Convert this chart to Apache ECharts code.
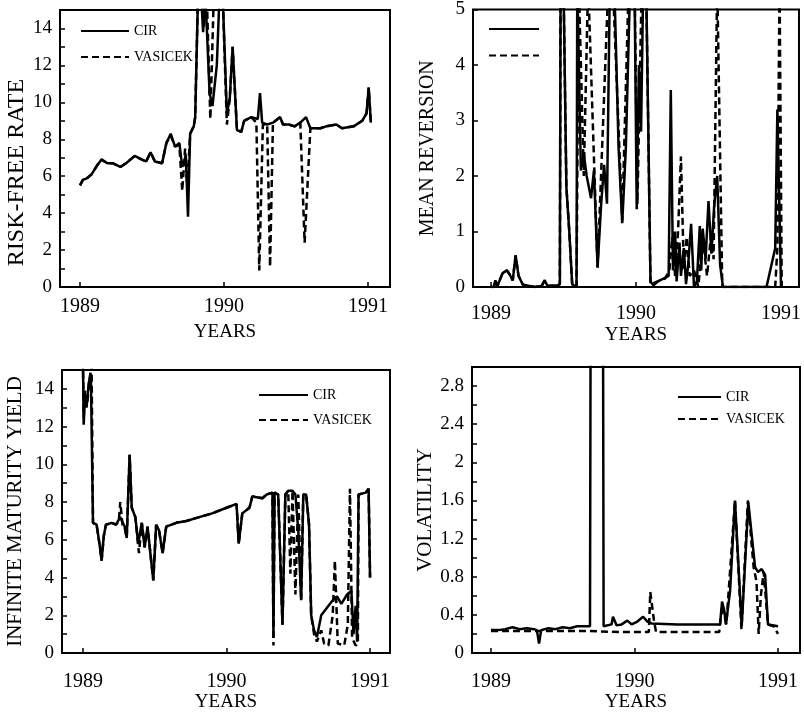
<!DOCTYPE html>
<html>
<head>
<meta charset="utf-8">
<title>CIR vs Vasicek parameter estimates</title>
<script src="https://cdn.jsdelivr.net/npm/echarts@6.0.0/dist/echarts.min.js"></script>
<style>
  html, body { margin: 0; padding: 0; background: #fff; }
  #chart { width: 804px; height: 717px; }
</style>
</head>
<body>
<div id="chart"></div>
<script>
// x ticks shared by all four panels
const yearTicks = [1989, 1990, 1991];

// risk-free rate (top left)
const rateCirYears = [1989.00, 1989.02, 1989.05, 1989.08, 1989.12, 1989.15, 1989.19, 1989.23, 1989.28, 1989.32,
  1989.38, 1989.43, 1989.46, 1989.49, 1989.52, 1989.57, 1989.60, 1989.63, 1989.66, 1989.69,
  1989.71, 1989.735, 1989.75, 1989.765, 1989.79, 1989.80, 1989.82, 1989.84, 1989.855, 1989.87,
  1989.90, 1989.92, 1989.95, 1989.97, 1989.99, 1990.02, 1990.04, 1990.06, 1990.09, 1990.12,
  1990.14, 1990.19, 1990.235, 1990.25, 1990.265, 1990.30, 1990.34, 1990.39, 1990.41, 1990.45,
  1990.49, 1990.53, 1990.57, 1990.60, 1990.67, 1990.71, 1990.78, 1990.82, 1990.90, 1990.96,
  1990.99, 1991.005, 1991.02];
const rateCir = [5.5, 5.8, 5.9, 6.1, 6.6, 6.9, 6.7, 6.7, 6.5, 6.7,
  7.1, 6.9, 6.8, 7.3, 6.8, 6.7, 7.8, 8.3, 7.6, 7.8,
  6.5, 7.1, 3.8, 8.3, 8.7, 9.2, 16, 16, 13.8, 16,
  10.5, 9.8, 12, 16, 16, 9.4, 10.2, 13.0, 8.5, 8.4,
  9.0, 9.2, 9.1, 10.5, 8.9, 8.8, 8.9, 9.2, 8.8, 8.8,
  8.7, 8.9, 9.2, 8.6, 8.6, 8.7, 8.8, 8.6, 8.7, 9.0,
  9.4, 10.8, 8.9];
const rateVasYears = [1989.00, 1989.02, 1989.05, 1989.08, 1989.12, 1989.15, 1989.19, 1989.23, 1989.28, 1989.32,
  1989.38, 1989.43, 1989.46, 1989.49, 1989.52, 1989.57, 1989.60, 1989.63, 1989.66, 1989.69,
  1989.71, 1989.73, 1989.745, 1989.765, 1989.79, 1989.80, 1989.82, 1989.85, 1989.86, 1989.88,
  1989.905, 1989.93, 1989.99, 1990.02, 1990.04, 1990.06, 1990.09, 1990.12, 1990.14, 1990.19,
  1990.225, 1990.245, 1990.27, 1990.30, 1990.32, 1990.34, 1990.39, 1990.41, 1990.45, 1990.49,
  1990.53, 1990.56, 1990.60, 1990.67, 1990.71, 1990.78, 1990.82, 1990.90, 1990.96, 1990.99,
  1991.005, 1991.02];
const rateVas = [5.5, 5.8, 5.9, 6.1, 6.6, 6.9, 6.7, 6.7, 6.5, 6.7,
  7.1, 6.9, 6.8, 7.3, 6.8, 6.7, 7.8, 8.2, 7.6, 7.7,
  5.2, 7.5, 5.4, 8.3, 8.7, 9.2, 16, 16, 14.0, 16,
  9.1, 16, 16, 8.8, 10.2, 13.0, 8.5, 8.4, 9.0, 9.2,
  8.9, 0.9, 8.8, 8.8, 1.1, 8.9, 9.2, 8.8, 8.8, 8.7,
  8.9, 2.4, 8.6, 8.6, 8.7, 8.8, 8.6, 8.7, 9.0, 9.4,
  10.8, 8.9];

// mean reversion (top right)
const revCirYears = [1989.00, 1989.02, 1989.03, 1989.045, 1989.08, 1989.11, 1989.13, 1989.15, 1989.17, 1989.19,
  1989.22, 1989.30, 1989.35, 1989.37, 1989.39, 1989.46, 1989.475, 1989.48, 1989.50, 1989.52,
  1989.54, 1989.56, 1989.59, 1989.595, 1989.62, 1989.64, 1989.66, 1989.69, 1989.71, 1989.735,
  1989.76, 1989.78, 1989.80, 1989.82, 1989.85, 1989.88, 1989.905, 1989.93, 1989.96, 1989.99,
  1990.005, 1990.02, 1990.035, 1990.05, 1990.07, 1990.10, 1990.12, 1990.15, 1990.19, 1990.225,
  1990.24, 1990.255, 1990.27, 1990.28, 1990.30, 1990.31, 1990.33, 1990.345, 1990.36, 1990.38,
  1990.40, 1990.42, 1990.44, 1990.45, 1990.46, 1990.48, 1990.50, 1990.52, 1990.54, 1990.56,
  1990.58, 1990.60, 1990.90, 1990.96, 1990.975, 1991.00];
const revCir = [0, 0, 0.12, 0.02, 0.25, 0.3, 0.22, 0.12, 0.57, 0.2,
  0.04, 0, 0.02, 0.12, 0.02, 0.03, 0.05, 5.5, 5.5, 1.8,
  1.0, 0.05, 0, 5.5, 2.1, 2.4, 2.0, 1.6, 2.1, 0.35,
  1.5, 2.2, 1.5, 5.5, 5.5, 2.5, 1.15, 2.5, 5.5, 5.5,
  1.4, 4.0, 2.8, 5.5, 5.5, 0.1, 0.03, 0.1, 0.15, 0.2,
  3.55, 0.3, 1.0, 0.1, 0.8, 0.2, 0.7, 0.05, 0.4, 1.14,
  0, 0.1, 1.1, 0.3, 1.05, 0.5, 1.55, 0.6, 1.5, 2.0,
  0.4, 0, 0, 0.7, 3.2, 0];
const revVasYears = [1989.00, 1989.02, 1989.03, 1989.045, 1989.08, 1989.11, 1989.13, 1989.15, 1989.17, 1989.19,
  1989.22, 1989.30, 1989.35, 1989.37, 1989.39, 1989.46, 1989.475, 1989.48, 1989.50, 1989.52,
  1989.54, 1989.56, 1989.59, 1989.605, 1989.64, 1989.67, 1989.735, 1989.81, 1989.84, 1989.905,
  1989.95, 1989.99, 1990.01, 1990.04, 1990.07, 1990.10, 1990.15, 1990.20, 1990.23, 1990.25,
  1990.27, 1990.29, 1990.31, 1990.33, 1990.35, 1990.37, 1990.40, 1990.43, 1990.46, 1990.49,
  1990.52, 1990.535, 1990.56, 1990.595, 1990.96, 1990.975, 1990.99, 1991.005];
const revVas = [0, 0, 0.12, 0.02, 0.25, 0.3, 0.22, 0.12, 0.57, 0.2,
  0.04, 0, 0.02, 0.12, 0.02, 0.03, 0.05, 5.5, 5.5, 1.8,
  1.0, 0.05, 0, 5.5, 2.0, 5.5, 0.35, 5.5, 5.5, 1.2,
  5.5, 5.5, 1.5, 5.5, 5.5, 0.05, 0.1, 0.15, 0.3, 0.9,
  0.2, 1.0, 2.35, 0.3, 0.9, 0.2, 0.3, 0, 0.9, 0.2,
  1.0, 0.5, 5.5, 0, 0, 0.7, 5.5, 0];

// infinite maturity yield (bottom left)
const yieldCirYears = [1989.00, 1989.005, 1989.015, 1989.025, 1989.04, 1989.055, 1989.07, 1989.095, 1989.115, 1989.13,
  1989.145, 1989.16, 1989.20, 1989.23, 1989.26, 1989.29, 1989.305, 1989.325, 1989.34, 1989.365,
  1989.385, 1989.41, 1989.43, 1989.45, 1989.475, 1989.49, 1989.51, 1989.53, 1989.555, 1989.58,
  1989.65, 1989.72, 1989.81, 1989.90, 1990.00, 1990.07, 1990.085, 1990.11, 1990.16, 1990.18,
  1990.25, 1990.28, 1990.32, 1990.327, 1990.335, 1990.36, 1990.39, 1990.41, 1990.43, 1990.46,
  1990.48, 1990.50, 1990.52, 1990.535, 1990.555, 1990.575, 1990.59, 1990.61, 1990.63, 1990.66,
  1990.70, 1990.74, 1990.77, 1990.80, 1990.84, 1990.87, 1990.885, 1990.90, 1990.91, 1990.92,
  1990.97, 1990.99, 1991.00];
const yieldCir = [15.5, 12.1, 13.7, 13.0, 14.3, 14.8, 6.9, 6.8, 5.8, 4.9,
  6.2, 6.8, 6.9, 6.8, 7.2, 6.7, 6.1, 10.5, 7.7, 7.2,
  5.8, 6.9, 5.6, 6.7, 4.9, 3.85, 6.8, 6.5, 5.3, 6.7,
  6.9, 7.0, 7.2, 7.4, 7.7, 7.9, 5.8, 7.4, 7.7, 8.3,
  8.2, 8.4, 8.5, 0.8, 8.5, 8.4, 1.5, 8.4, 8.6, 8.6,
  8.4, 6.5, 2.8, 8.4, 8.4, 6.8, 2.0, 1.2, 0.85, 2.0,
  2.4, 2.8, 3.0, 2.6, 3.1, 3.3, 1.0, 2.5, 0.6, 8.4,
  8.5, 8.7, 4.0];
const yieldVasYears = [1989.00, 1989.005, 1989.015, 1989.03, 1989.045, 1989.06, 1989.07, 1989.095, 1989.115, 1989.13,
  1989.145, 1989.16, 1989.20, 1989.23, 1989.25, 1989.26, 1989.275, 1989.29, 1989.305, 1989.325,
  1989.34, 1989.365, 1989.39, 1989.41, 1989.43, 1989.45, 1989.475, 1989.49, 1989.51, 1989.53,
  1989.555, 1989.58, 1989.65, 1989.72, 1989.81, 1989.90, 1990.00, 1990.07, 1990.085, 1990.11,
  1990.16, 1990.18, 1990.25, 1990.28, 1990.32, 1990.327, 1990.335, 1990.36, 1990.39, 1990.41,
  1990.43, 1990.445, 1990.46, 1990.48, 1990.50, 1990.52, 1990.535, 1990.555, 1990.575, 1990.59,
  1990.61, 1990.63, 1990.66, 1990.68, 1990.71, 1990.74, 1990.755, 1990.775, 1990.82, 1990.845,
  1990.86, 1990.875, 1990.90, 1990.915, 1990.92, 1990.97, 1990.99, 1991.00];
const yieldVas = [15.5, 12.5, 13.9, 13.2, 14.5, 15.2, 6.9, 6.8, 5.8, 4.9,
  6.2, 6.8, 6.9, 6.8, 7.0, 8.0, 6.8, 6.7, 6.1, 10.5,
  7.7, 7.2, 5.3, 6.9, 5.6, 6.7, 4.9, 3.85, 6.8, 6.5,
  5.3, 6.7, 6.9, 7.0, 7.2, 7.4, 7.7, 7.9, 5.8, 7.4,
  7.7, 8.3, 8.2, 8.4, 8.5, 0.4, 8.5, 8.4, 1.5, 8.4,
  8.6, 4.2, 8.6, 3.1, 8.4, 2.8, 8.4, 8.4, 6.8, 2.0,
  1.0, 0.6, 1.2, 0.5, 0.4, 2.0, 4.9, 0.5, 0.4, 1.5,
  8.7, 0.8, 0.4, 0.5, 8.4, 8.5, 8.7, 4.0];

// volatility (bottom right)
const volCirYears = [1989.00, 1989.05, 1989.10, 1989.15, 1989.20, 1989.25, 1989.30, 1989.32, 1989.335, 1989.35,
  1989.40, 1989.45, 1989.50, 1989.55, 1989.60, 1989.65, 1989.69, 1989.695, 1989.78, 1989.785,
  1989.84, 1989.85, 1989.875, 1989.91, 1989.95, 1989.98, 1990.02, 1990.06, 1990.09, 1990.12,
  1990.30, 1990.45, 1990.596, 1990.61, 1990.625, 1990.637, 1990.666, 1990.70, 1990.747, 1990.793,
  1990.84, 1990.86, 1990.886, 1990.91, 1990.93, 1991.00];
const volCir = [0.24, 0.24, 0.25, 0.27, 0.25, 0.26, 0.25, 0.24, 0.1, 0.24,
  0.26, 0.25, 0.27, 0.26, 0.28, 0.28, 0.28, 4, 4, 0.28,
  0.3, 0.38, 0.29, 0.3, 0.34, 0.3, 0.33, 0.38, 0.33, 0.31,
  0.3, 0.3, 0.3, 0.54, 0.45, 0.3, 0.65, 1.6, 0.28, 1.58,
  0.9, 0.85, 0.88, 0.82, 0.3, 0.28];
const volVasYears = [1989.00, 1989.30, 1989.60, 1989.69, 1989.90, 1990.10, 1990.11, 1990.135, 1990.15, 1990.30,
  1990.59, 1990.61, 1990.64, 1990.70, 1990.745, 1990.79, 1990.83, 1990.85, 1990.865, 1990.88,
  1990.90, 1990.93, 1990.97, 1991.00];
const volVas = [0.23, 0.23, 0.23, 0.23, 0.22, 0.22, 0.64, 0.35, 0.22, 0.22,
  0.22, 0.5, 0.3, 1.6, 0.25, 1.6, 0.9, 0.75, 0.2, 0.6,
  0.85, 0.3, 0.28, 0.2];

const FONT = '"Liberation Serif", "DejaVu Serif", serif';
const pairs = (xs, ys) => xs.map((x, i) => [x, ys[i]]);

const chart = echarts.init(document.getElementById('chart'));

// one panel = grid + axes; positions
const panels = [
  { grid: { left: 60, top: 10, width: 330, height: 277 }, xMin: 1988.861, xMax: 1991.153,
    yMax: 15, yStep: 1, yLabel: v => (v % 2 === 0 ? v : ''), name: 'RISK-FREE RATE', nameSize: 24,
    nameGap: 30, namePad: [0, 48, 0, 0], xMargin: 10, xNameGap: 36 },
  { grid: { left: 473, top: 7, width: 327, height: 280 }, xMin: 1988.876, xMax: 1991.124,
    yMax: 5, yStep: 1, yLabel: v => v, name: 'MEAN REVERSION', nameSize: 20,
    nameGap: 35, namePad: 0, xMargin: 17, xNameGap: 39 },
  { grid: { left: 62, top: 370, width: 328, height: 283 }, xMin: 1988.854, xMax: 1991.139,
    yMax: 15, yStep: 1, yLabel: v => (v % 2 === 0 ? v : ''), name: 'INFINITE MATURITY YIELD', nameSize: 21,
    nameGap: 36, namePad: 0, xMargin: 19, xNameGap: 40 },
  { grid: { left: 472, top: 367, width: 328, height: 286 }, xMin: 1988.868, xMax: 1991.153,
    yMax: 3, yStep: 0.2, yLabel: v => (Math.round(v * 10) % 4 === 0 ? String(Math.round(v * 10) / 10) : ''),
    name: 'VOLATILITY', nameSize: 21, nameGap: 34, namePad: 0, xMargin: 19, xNameGap: 40 }
];

const legends = [
  { left: 75, top: 19, itemWidth: 48, itemGap: 12, text: true },
  { left: 483, top: 17, itemWidth: 50, itemGap: 14, text: false },
  { left: 253, top: 383, itemWidth: 49, itemGap: 11, text: true },
  { left: 672, top: 385, itemWidth: 43, itemGap: 8, text: true }
];

const lineSeries = (name, idx, xs, ys, dashed) => ({
  name: name,
  type: 'line',
  xAxisIndex: idx,
  yAxisIndex: idx,
  data: pairs(xs, ys),
  symbol: 'none',
  clip: true,
  silent: true,
  lineStyle: { color: '#000', width: 2.5, type: dashed ? [7, 4] : 'solid' },
  itemStyle: { color: '#000' },
  emphasis: { disabled: true }
});

const option = {
  animation: false,
  backgroundColor: '#fff',
  textStyle: { fontFamily: FONT, color: '#000' },
  grid: panels.map(p => Object.assign({ show: true, borderColor: '#000', borderWidth: 2 }, p.grid)),
  xAxis: panels.map((p, i) => ({
    type: 'value',
    gridIndex: i,
    min: p.xMin,
    max: p.xMax,
    name: 'YEARS',
    nameLocation: 'middle',
    nameGap: p.xNameGap,
    nameTextStyle: { fontFamily: FONT, fontSize: 19, color: '#000' },
    axisLine: { show: false },
    axisTick: { show: true, inside: true, length: 5, customValues: yearTicks, lineStyle: { color: '#000', width: 1.5 } },
    axisLabel: { customValues: yearTicks, formatter: v => String(v), margin: p.xMargin,
      fontFamily: FONT, fontSize: 20, color: '#000' },
    splitLine: { show: false }
  })),
  yAxis: panels.map((p, i) => ({
    type: 'value',
    gridIndex: i,
    min: 0,
    max: p.yMax,
    interval: p.yStep,
    name: p.name,
    nameLocation: 'middle',
    nameGap: p.nameGap,
    nameTextStyle: { fontFamily: FONT, fontSize: p.nameSize, color: '#000', padding: p.namePad },
    axisLine: { show: false },
    axisTick: { show: true, inside: true, length: 5, lineStyle: { color: '#000', width: 1.5 } },
    axisLabel: { formatter: p.yLabel, margin: 8, fontFamily: FONT, fontSize: 19, color: '#000' },
    splitLine: { show: false }
  })),
  legend: legends.map(l => ({
    orient: 'vertical',
    left: l.left,
    top: l.top,
    itemWidth: l.itemWidth,
    itemHeight: 14,
    itemGap: l.itemGap,
    selectedMode: false,
    data: ['CIR', 'VASICEK'],
    formatter: l.text ? (n => n) : (() => ''),
    // hide the marker drawn on the legend line, keep the line itself
    itemStyle: { opacity: 0, borderWidth: 0 },
    textStyle: { fontFamily: FONT, fontSize: 14, color: '#000' }
  })),
  series: [
    lineSeries('CIR', 0, rateCirYears, rateCir, false),
    lineSeries('VASICEK', 0, rateVasYears, rateVas, true),
    lineSeries('CIR', 1, revCirYears, revCir, false),
    lineSeries('VASICEK', 1, revVasYears, revVas, true),
    lineSeries('CIR', 2, yieldCirYears, yieldCir, false),
    lineSeries('VASICEK', 2, yieldVasYears, yieldVas, true),
    lineSeries('CIR', 3, volCirYears, volCir, false),
    lineSeries('VASICEK', 3, volVasYears, volVas, true)
  ]
};

chart.setOption(option);
</script>
</body>
</html>
